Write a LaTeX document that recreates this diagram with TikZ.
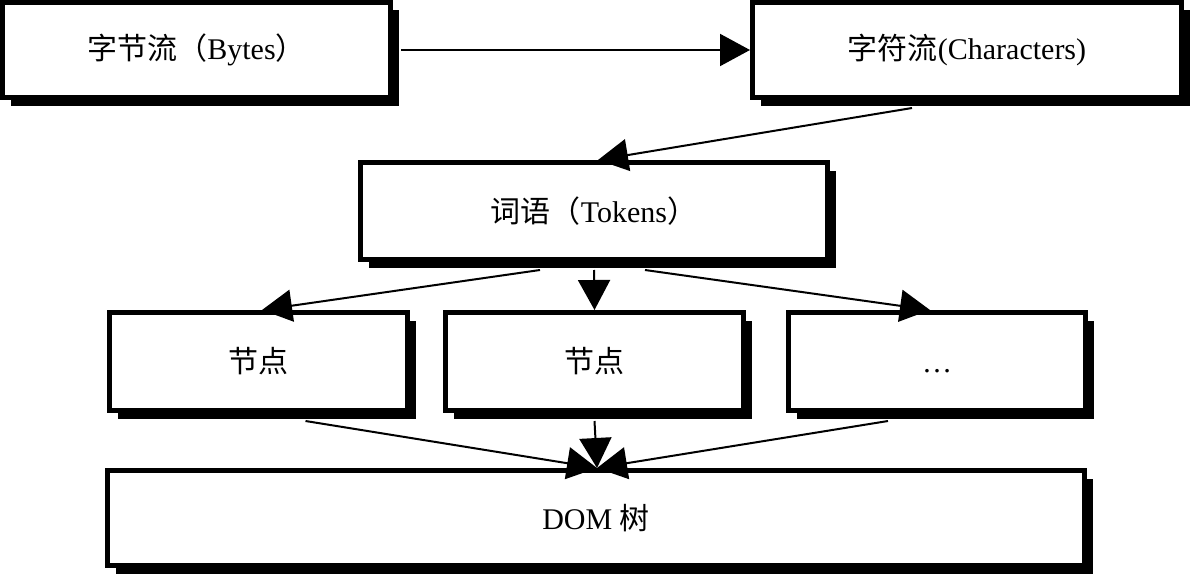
\documentclass[tikz,border=0pt]{standalone}
\usepackage{fontspec}
\setmainfont{Liberation Serif}
\newfontfamily\cjk{Noto Sans CJK SC}
\usetikzlibrary{arrows.meta,shadows}
\begin{document}
\begin{tikzpicture}[x=1pt,y=-1pt,
  stagebox/.style={draw=black,line width=5pt,fill=white,
    drop shadow={shadow xshift=8pt,shadow yshift=-8pt,fill=black,opacity=1},
    inner sep=0pt,font=\fontsize{30}{34}\selectfont},
  flow/.style={line width=2pt,-{Triangle[length=30pt,width=32pt]}}]
\useasboundingbox (0,0) rectangle (1191,578);
% stream stages
\node[stagebox,minimum width=388pt,minimum height=95pt] (bytes) at (196.5,50)
  {{\cjk 字节流（}Bytes{\cjk ）}};
\node[stagebox,minimum width=429pt,minimum height=95pt] (chars) at (967,50)
  {{\cjk 字符流}(Characters)};
\node[stagebox,minimum width=467pt,minimum height=97pt] (tokens) at (594,211)
  {{\cjk 词语（}Tokens{\cjk ）}};
% node row
\node[stagebox,minimum width=298pt,minimum height=98pt] (n1) at (258.5,361.5) {\cjk 节点};
\node[stagebox,minimum width=298pt,minimum height=98pt] (n2) at (594.5,361.5) {\cjk 节点};
\node[stagebox,minimum width=297pt,minimum height=98pt] (n3) at (937,361.5)
  {{\cjk\vphantom{节点}}…};
% result
\node[stagebox,minimum width=977pt,minimum height=95pt] (dom) at (596,518)
  {DOM {\cjk 树}};
% connectors
\draw[flow] ([xshift=8pt]bytes.east) -- (chars.west);
\draw[flow] ([xshift=-55pt,yshift=-8pt]chars.south) -- ([xshift=4pt]tokens.north);
\draw[flow] ([xshift=-54pt,yshift=-8pt]tokens.south) -- ([xshift=3.5pt]n1.north);
\draw[flow] ([yshift=-8pt]tokens.south) -- (n2.north);
\draw[flow] ([xshift=51pt,yshift=-8pt]tokens.south) -- ([xshift=-7pt]n3.north);
\draw[flow] ([xshift=47pt,yshift=-8pt]n1.south) -- ([xshift=1pt]dom.north);
\draw[flow] ([yshift=-8pt]n2.south) -- ([xshift=1pt]dom.north);
\draw[flow] ([xshift=-49pt,yshift=-8pt]n3.south) -- ([xshift=1pt]dom.north);
\end{tikzpicture}
\end{document}
